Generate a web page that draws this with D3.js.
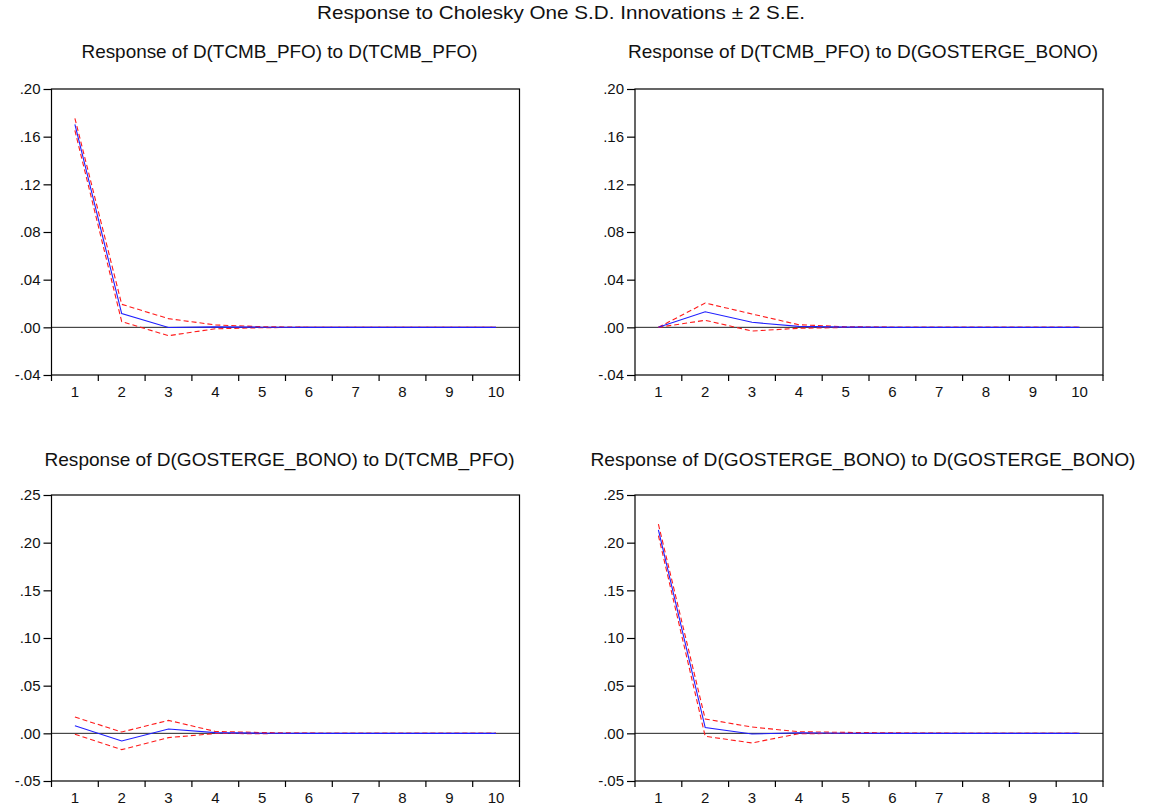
<!DOCTYPE html>
<html>
<head>
<meta charset="utf-8">
<script src="https://cdn.jsdelivr.net/npm/d3@7"></script>
<style>
  html, body { margin: 0; padding: 0; background: #fff; }
  svg { display: block; font-family: "Liberation Sans", Arial, sans-serif; }
</style>
</head>
<body>
<svg id="chart" width="1158" height="811"></svg>
<script>
// Impulse-response periods
const periods = [1, 2, 3, 4, 5, 6, 7, 8, 9, 10];

// Response of D(TCMB_PFO) to D(TCMB_PFO)
const tcmbToTcmb      = [0.1703, 0.0115, -0.0002, 0.0004, 0.0001, 0, 0, 0, 0, 0];
const tcmbToTcmbUp    = [0.1754, 0.0193, 0.0073, 0.0020, 0.0005, 0.0001, 0, 0, 0, 0];
const tcmbToTcmbLo    = [0.1652, 0.0048, -0.0070, -0.0012, -0.0003, 0, 0, 0, 0, 0];

// Response of D(TCMB_PFO) to D(GOSTERGE_BONO)
const tcmbToBono      = [0, 0.0131, 0.0042, 0.0008, 0.0002, 0, 0, 0, 0, 0];
const tcmbToBonoUp    = [0, 0.0204, 0.0112, 0.0022, 0.0005, 0.0001, 0, 0, 0, 0];
const tcmbToBonoLo    = [0, 0.0059, -0.0031, -0.0008, -0.0001, 0, 0, 0, 0, 0];

// Response of D(GOSTERGE_BONO) to D(TCMB_PFO)
const bonoToTcmb      = [0.0080, -0.0080, 0.0045, 0.0007, 0.0001, 0, 0, 0, 0, 0];
const bonoToTcmbUp    = [0.0171, 0.0014, 0.0136, 0.0020, 0.0008, 0.0002, 0, 0, 0, 0];
const bonoToTcmbLo    = [-0.0010, -0.0171, -0.0045, -0.0002, -0.0003, 0, 0, 0, 0, 0];

// Response of D(GOSTERGE_BONO) to D(GOSTERGE_BONO)
const bonoToBono      = [0.2134, 0.0060, -0.0007, 0.0006, 0.0001, 0, 0, 0, 0, 0];
const bonoToBonoUp    = [0.2194, 0.0150, 0.0066, 0.0017, 0.0010, 0.0005, 0.0002, 0, 0, 0];
const bonoToBonoLo    = [0.2075, -0.0031, -0.0101, -0.0003, -0.0002, 0, 0, 0, 0, 0];

// Y tick values for each row
const topTicks    = [-0.04, 0.00, 0.04, 0.08, 0.12, 0.16, 0.20];
const bottomTicks = [-0.05, 0.00, 0.05, 0.10, 0.15, 0.20, 0.25];

const mainTitle = "Response to Cholesky One S.D. Innovations \u00B1 2 S.E.";

const panels = [
  { title: "Response of D(TCMB_PFO) to D(TCMB_PFO)", titleW: 396,
    irf: tcmbToTcmb, up: tcmbToTcmbUp, lo: tcmbToTcmbLo, ticks: topTicks,
    x: 51.5, y: 89, titleY: 58 },
  { title: "Response of D(TCMB_PFO) to D(GOSTERGE_BONO)", titleW: 470,
    irf: tcmbToBono, up: tcmbToBonoUp, lo: tcmbToBonoLo, ticks: topTicks,
    x: 635, y: 89, titleY: 58 },
  { title: "Response of D(GOSTERGE_BONO) to D(TCMB_PFO)", titleW: 470,
    irf: bonoToTcmb, up: bonoToTcmbUp, lo: bonoToTcmbLo, ticks: bottomTicks,
    x: 51.5, y: 495, titleY: 466 },
  { title: "Response of D(GOSTERGE_BONO) to D(GOSTERGE_BONO)", titleW: 545,
    irf: bonoToBono, up: bonoToBonoUp, lo: bonoToBonoLo, ticks: bottomTicks,
    x: 635, y: 495, titleY: 466 }
];

const W = 468, H = 286;
const svg = d3.select("#chart");

svg.append("text")
  .attr("x", 561).attr("y", 19)
  .attr("text-anchor", "middle")
  .attr("font-size", 19)
  .attr("textLength", 488)
  .attr("lengthAdjust", "spacingAndGlyphs")
  .attr("fill", "#111")
  .text(mainTitle);

// two decimals, no leading zero, plain hyphen for negatives
const locale = d3.formatLocale({ decimal: ".", thousands: ",", grouping: [3], currency: ["", ""], minus: "-" });
const fmt2 = locale.format(".2f");
const fmt = v => fmt2(v).replace(/^(-?)0\./, "$1.");

panels.forEach(p => {
  const g = svg.append("g").attr("transform", `translate(${p.x},${p.y})`);

  const x = d3.scaleBand().domain(periods).range([0, W]);
  const y = d3.scaleLinear().domain([p.ticks[0], p.ticks[p.ticks.length - 1]]).range([H, 0]);
  const cx = d => x(d) + x.bandwidth() / 2;

  // panel title
  svg.append("text")
    .attr("x", p.x + W / 2 - 6).attr("y", p.titleY)
    .attr("text-anchor", "middle")
    .attr("font-size", 19)
    .attr("textLength", p.titleW)
    .attr("lengthAdjust", "spacingAndGlyphs")
    .attr("fill", "#111")
    .text(p.title);

  // zero reference line
  g.append("line")
    .attr("x1", 0).attr("x2", W)
    .attr("y1", y(0)).attr("y2", y(0))
    .attr("stroke", "#222").attr("stroke-width", 1);

  const line = d3.line().x((d, i) => cx(periods[i])).y(d => y(d));

  g.append("path").datum(p.up)
    .attr("d", line).attr("fill", "none")
    .attr("stroke", "#ff1a1a").attr("stroke-width", 1.1)
    .attr("stroke-dasharray", "5,3");
  g.append("path").datum(p.lo)
    .attr("d", line).attr("fill", "none")
    .attr("stroke", "#ff1a1a").attr("stroke-width", 1.1)
    .attr("stroke-dasharray", "5,3");
  g.append("path").datum(p.irf)
    .attr("d", line).attr("fill", "none")
    .attr("stroke", "#1f1fff").attr("stroke-width", 1.1);

  // frame
  g.append("rect")
    .attr("x", 0).attr("y", 0).attr("width", W).attr("height", H)
    .attr("fill", "none").attr("stroke", "#000").attr("stroke-width", 1.2);

  // y axis
  const yAxis = d3.axisLeft(y).tickValues(p.ticks).tickFormat(fmt).tickSize(8).tickPadding(3);
  const ya = g.append("g").call(yAxis);
  ya.select(".domain").remove();
  ya.selectAll("line").attr("stroke", "#000").attr("stroke-width", 1.2);
  ya.selectAll("text")
    .attr("font-size", 15)
    .attr("font-family", "Liberation Sans, Arial, sans-serif")
    .attr("fill", "#111");

  // x axis: ticks at band edges, labels centred in bands
  const edges = d3.range(0, periods.length + 1).map(i => i * x.step());
  const xa = g.append("g").attr("transform", `translate(0,${H})`);
  xa.selectAll("line.tk").data(edges).enter().append("line")
    .attr("class", "tk")
    .attr("x1", d => d).attr("x2", d => d)
    .attr("y1", 0).attr("y2", 6)
    .attr("stroke", "#000").attr("stroke-width", 1.2);
  const xAxis = d3.axisBottom(x).tickSize(0).tickPadding(11);
  const xl = xa.append("g").call(xAxis);
  xl.select(".domain").remove();
  xl.selectAll("text")
    .attr("font-size", 15)
    .attr("font-family", "Liberation Sans, Arial, sans-serif")
    .attr("fill", "#111");
});
</script>
</body>
</html>
